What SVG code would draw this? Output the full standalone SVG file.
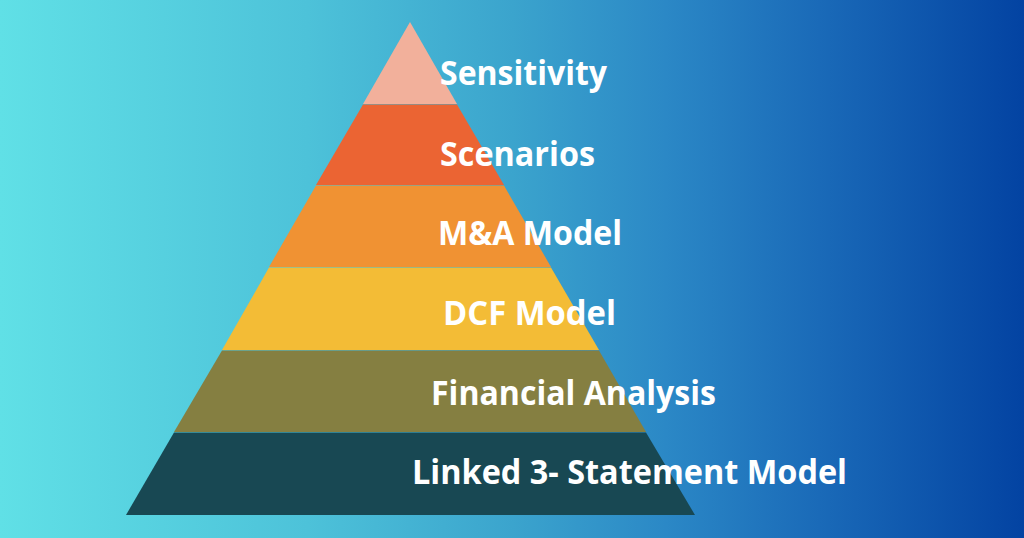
<svg xmlns="http://www.w3.org/2000/svg" width="1024" height="538" viewBox="0 0 1024 538">
<defs>
<linearGradient id="bg" x1="0" y1="0" x2="1" y2="0">
<stop offset="0" stop-color="#60E0E6"/>
<stop offset="0.3" stop-color="#4DC2D9"/>
<stop offset="0.5" stop-color="#3BA4CD"/>
<stop offset="0.65" stop-color="#2B88C6"/>
<stop offset="0.8" stop-color="#1A6AB8"/>
<stop offset="1" stop-color="#0343A2"/>
</linearGradient>
<style>
.lbl{font-family:"Open Sans","Liberation Sans",sans-serif;font-weight:700;font-size:34px;fill:#FFFFFF}
.band{stroke:none}
</style>
</defs>
<rect x="0" y="0" width="1024" height="538" fill="url(#bg)"/>
<g id="level-sensitivity">
<polygon class="band" points="410,22 457,104 363,104" fill="#F2B09B"/>
<text class="lbl" x="440" y="85" textLength="167" lengthAdjust="spacingAndGlyphs">Sensitivity</text>
</g>
<g id="level-scenarios">
<polygon class="band" points="363,104.6 457,104.6 504,185 316,185" fill="#EB6433"/>
<text class="lbl" x="440" y="166" textLength="155" lengthAdjust="spacingAndGlyphs">Scenarios</text>
</g>
<g id="level-ma">
<polygon class="band" points="316,185.6 504,185.6 551,267 269,267" fill="#F09233"/>
<text class="lbl" x="438" y="245" textLength="184" lengthAdjust="spacingAndGlyphs">M&amp;A Model</text>
</g>
<g id="level-dcf">
<polygon class="band" points="269,267.6 551,267.6 599,350 222,350" fill="#F3BC36"/>
<text class="lbl" x="443" y="325" textLength="173" lengthAdjust="spacingAndGlyphs">DCF Model</text>
</g>
<g id="level-financial">
<polygon class="band" points="222,350.6 599,350.6 646,432 174,432" fill="#857F41"/>
<text class="lbl" x="431" y="405" textLength="285" lengthAdjust="spacingAndGlyphs">Financial Analysis</text>
</g>
<g id="level-linked">
<polygon class="band" points="174,432.6 646,432.6 695,515 126,515" fill="#184853"/>
<text class="lbl" x="412" y="484" textLength="435" lengthAdjust="spacingAndGlyphs">Linked 3- Statement Model</text>
</g>
<g id="connectors"></g>
</svg>
